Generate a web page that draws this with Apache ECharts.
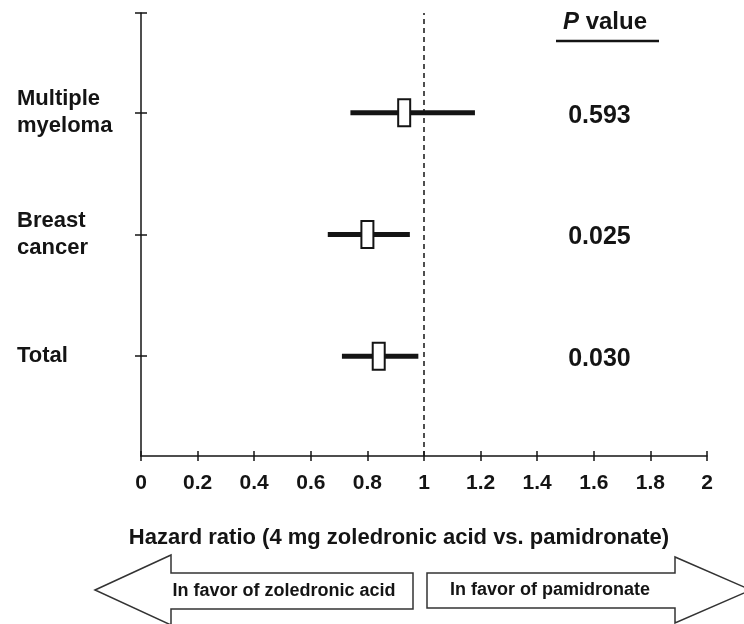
<!DOCTYPE html>
<html>
<head>
<meta charset="utf-8">
<script src="https://cdn.jsdelivr.net/npm/echarts@6/dist/echarts.min.js"></script>
<style>
	html, body { margin: 0; padding: 0; background: #fff; }
	#chartmain { width: 744px; height: 624px; }
</style>
</head>
<body>
<div id="chartmain"></div>
<script>
// rows top to bottom
var groups = ['Multiple\nmyeloma', 'Breast\ncancer', 'Total'];
var hazard = [0.93, 0.80, 0.84];
var ciLow = [0.74, 0.66, 0.71];
var ciHigh = [1.18, 0.95, 0.98];
var pValues = ['0.593', '0.025', '0.030'];
var rowPos = [2.82, 1.82, 0.82];
var xTicks = [0, 0.2, 0.4, 0.6, 0.8, 1, 1.2, 1.4, 1.6, 1.8, 2];

var yMax = 3.64;
var pCol = 1.62;
var ink = '#141414';
var font = "'Liberation Sans', Arial, Helvetica, sans-serif";

var ciData = [];
var pData = [];
for (var i = 0; i < groups.length; i++) {
	ciData.push([ciLow[i], ciHigh[i], hazard[i], rowPos[i]]);
	pData.push({ value: [pCol, rowPos[i]], label: { formatter: pValues[i] } });
}

function labelFor(v) {
	for (var i = 0; i < rowPos.length; i++) {
		if (Math.abs(rowPos[i] - v) < 0.01) return groups[i];
	}
	return '';
}

function renderItem(params, api) {
	var lo = api.coord([api.value(0), api.value(3)]);
	var hi = api.coord([api.value(1), api.value(3)]);
	var mid = api.coord([api.value(2), api.value(3)]);
	return {
		type: 'group',
		children: [{
			type: 'line',
			shape: { x1: lo[0], y1: lo[1], x2: hi[0], y2: hi[1] },
			style: { stroke: ink, lineWidth: 5 }
		}, {
			type: 'rect',
			shape: { x: mid[0] - 6, y: mid[1] - 13.5, width: 12, height: 27 },
			style: { fill: '#fff', stroke: ink, lineWidth: 2 }
		}]
	};
}

var option = {
	animation: false,
	backgroundColor: '#fff',
	grid: { left: 141, right: 37, top: 13, bottom: 168 },
	xAxis: [{
		type: 'value', min: 0, max: 2, interval: 0.2,
		position: 'bottom',
		splitLine: { show: false },
		axisLine: { lineStyle: { color: ink, width: 1.5 } },
		axisTick: { length: 5, lineStyle: { color: ink, width: 1.5 } },
		axisLabel: {
			color: ink, fontSize: 21, fontWeight: 'bold', fontFamily: font, margin: 17,
			customValues: xTicks
		}
	}, {
		type: 'value', min: 0, max: 2, interval: 0.2,
		position: 'bottom',
		splitLine: { show: false },
		axisLine: { show: false },
		axisTick: { inside: true, length: 5, lineStyle: { color: ink, width: 1.5 } },
		axisLabel: { show: false }
	}],
	yAxis: [{
		type: 'value', min: 0, max: yMax,
		position: 'left',
		splitLine: { show: false },
		axisLine: { lineStyle: { color: ink, width: 1.5 } },
		axisTick: { length: 6, customValues: rowPos.concat([yMax]), lineStyle: { color: ink, width: 1.5 } },
		axisLabel: {
			customValues: rowPos,
			formatter: labelFor,
			align: 'left', margin: 124,
			color: ink, fontSize: 22, fontWeight: 'bold', fontFamily: font, lineHeight: 27
		}
	}, {
		type: 'value', min: 0, max: yMax,
		position: 'left',
		splitLine: { show: false },
		axisLine: { show: false },
		axisTick: { inside: true, length: 6, customValues: rowPos.concat([yMax]), lineStyle: { color: ink, width: 1.5 } },
		axisLabel: { show: false }
	}],
	series: [{
		type: 'scatter',
		symbolSize: 0,
		z: 1,
		itemStyle: { opacity: 1 },
		data: pData,
		label: {
			show: true, position: 'inside', offset: [0, 3],
			color: ink, fontSize: 25, fontWeight: 'bold', fontFamily: font
		},
		markLine: {
			silent: true,
			symbol: 'none',
			label: { show: false },
			lineStyle: { color: ink, width: 1.5, type: [5, 4], opacity: 1 },
			data: [{ xAxis: 1 }]
		}
	}, {
		type: 'custom',
		z: 3,
		renderItem: renderItem,
		encode: { x: [0, 1, 2], y: 3 },
		data: ciData
	}],
	graphic: [{
		type: 'text', left: 563, top: 10,
		style: {
			text: '{i|P} value',
			fill: ink, font: 'bold 24px ' + font,
			rich: { i: { fontStyle: 'italic', fontWeight: 'bold', fontSize: 24, fontFamily: font } }
		}
	}, {
		type: 'line',
		shape: { x1: 556, y1: 41, x2: 659, y2: 41 },
		style: { stroke: ink, lineWidth: 2.5 }
	}, {
		type: 'text', x: 399, y: 538,
		style: {
			text: 'Hazard ratio (4 mg zoledronic acid vs. pamidronate)',
			fill: ink, font: 'bold 22px ' + font, textAlign: 'center', textVerticalAlign: 'middle'
		}
	}, {
		type: 'polygon',
		shape: { points: [[95, 590], [171, 555], [171, 573], [413, 573], [413, 609], [171, 609], [171, 625]] },
		style: { fill: '#fff', stroke: '#333', lineWidth: 1.5 }
	}, {
		type: 'polygon',
		shape: { points: [[427, 573], [675, 573], [675, 557], [751, 590], [675, 623], [675, 608], [427, 608]] },
		style: { fill: '#fff', stroke: '#333', lineWidth: 1.5 }
	}, {
		type: 'text', x: 284, y: 591,
		style: {
			text: 'In favor of zoledronic acid',
			fill: ink, font: 'bold 18px ' + font, textAlign: 'center', textVerticalAlign: 'middle'
		}
	}, {
		type: 'text', x: 550, y: 590,
		style: {
			text: 'In favor of pamidronate',
			fill: ink, font: 'bold 18px ' + font, textAlign: 'center', textVerticalAlign: 'middle'
		}
	}]
};

var myChart = echarts.init(document.getElementById('chartmain'));
myChart.setOption(option);
</script>
</body>
</html>
